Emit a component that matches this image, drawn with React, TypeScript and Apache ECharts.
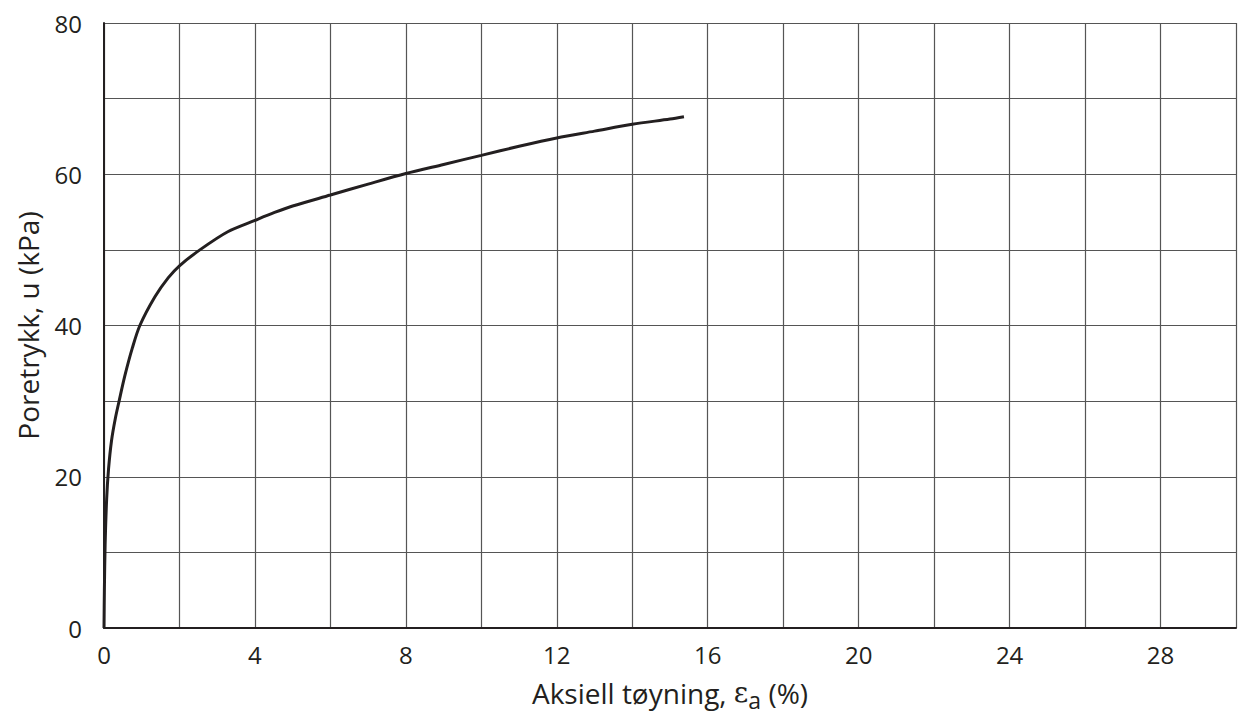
import React, { useEffect, useRef } from "react";
import * as echarts from "echarts";

const strain = [0, 0.01, 0.03, 0.07, 0.12, 0.2, 0.3, 0.4, 0.55, 0.75, 0.95, 1.35, 1.7, 2.0, 2.54, 3.28, 4, 4.52, 5, 6, 7, 8, 9, 10, 11, 12, 13, 14, 15, 15.37];
const porePressure = [0, 5, 11, 17, 21, 24.8, 27.7, 30, 33.3, 37, 40, 43.8, 46.3, 47.9, 50, 52.4, 53.9, 54.95, 55.8, 57.25, 58.7, 60.1, 61.3, 62.5, 63.7, 64.8, 65.7, 66.6, 67.3, 67.6];

const xTicks = [0, 4, 8, 12, 16, 20, 24, 28];
const yTicks = [0, 20, 40, 60, 80];

const FONT = "'Open Sans', 'Noto Sans', sans-serif";

export default function App() {
  const ref = useRef<HTMLDivElement>(null);
  useEffect(() => {
    if (!ref.current) return;
    const chart = echarts.init(ref.current, undefined, { renderer: "svg" });
    const data = strain.map((x, i) => [x, porePressure[i]]);
    chart.setOption({
      animation: false,
      backgroundColor: "#ffffff",
      grid: { left: 104, right: 1, top: 23, bottom: 92 },
      xAxis: {
        type: "value",
        min: 0,
        max: 30,
        interval: 2,
        axisLine: { show: true, onZero: false, lineStyle: { color: "#231f20", width: 2 } },
        axisTick: { show: false },
        splitLine: { show: true, lineStyle: { color: "#555555", width: 1.2 } },
        axisLabel: {
          margin: 14,
          fontSize: 24,
          fontFamily: FONT,
          color: "#231f20",
          formatter: (v: number) => (xTicks.includes(v) ? String(v) : ""),
        },
        name: "Aksiell tøyning, {e|ε}{sub|a} (%)",
        nameLocation: "middle",
        nameGap: 46,
        nameTextStyle: {
          fontSize: 28,
          fontFamily: FONT,
          color: "#231f20",
          rich: {
            e: { fontSize: 28, fontFamily: "'DejaVu Serif', serif", color: "#231f20" },
            sub: { fontSize: 23, fontFamily: FONT, color: "#231f20", verticalAlign: "bottom", padding: [14, 0, 0, 0] },
          },
        },
      },
      yAxis: {
        type: "value",
        min: 0,
        max: 80,
        interval: 10,
        axisLine: { show: true, onZero: false, lineStyle: { color: "#231f20", width: 2 } },
        axisTick: { show: false },
        splitLine: { show: true, lineStyle: { color: "#555555", width: 1.2 } },
        axisLabel: {
          margin: 22,
          fontSize: 24,
          fontFamily: FONT,
          color: "#231f20",
          formatter: (v: number) => (yTicks.includes(v) ? String(v) : ""),
        },
        name: "Poretrykk, u (kPa)",
        nameLocation: "middle",
        nameGap: 62,
        nameTextStyle: { fontSize: 28, fontFamily: FONT, color: "#231f20" },
      },
      series: [
        {
          type: "line",
          data,
          smooth: 0.3,
          showSymbol: false,
          lineStyle: { color: "#231f20", width: 3 },
        },
      ],
    });
    return () => chart.dispose();
  }, []);
  return (
    <div
      ref={ref}
      style={{ position: "fixed", left: 0, top: 0, width: 1239, height: 720, background: "#fff" }}
    />
  );
}
